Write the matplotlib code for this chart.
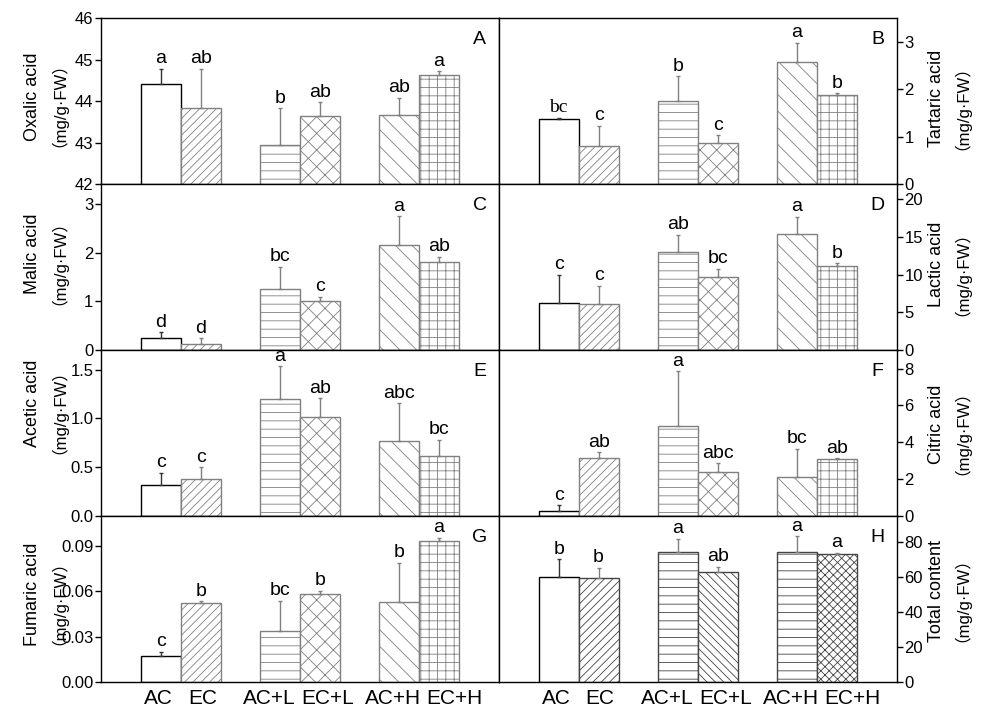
import numpy as np
import matplotlib.pyplot as plt

plt.rcParams['font.family'] = ['Liberation Sans', 'Noto Sans CJK SC']
plt.rcParams['hatch.linewidth'] = 0.6

treatments = ['AC', 'EC', 'AC+L', 'EC+L', 'AC+H', 'EC+H']
unit = '\uff08mg/g\u00b7FW\uff09'

# means, upper error and significance letters
oxalic = [44.42, 43.83, 42.95, 43.65, 43.67, 44.64]
oxalic_err = [0.37, 0.96, 0.88, 0.33, 0.41, 0.09]
oxalic_sig = ['a', 'ab', 'b', 'ab', 'ab', 'a']

tartaric = [1.38, 0.81, 1.76, 0.88, 2.57, 1.89]
tartaric_err = [0.02, 0.42, 0.52, 0.15, 0.42, 0.03]
tartaric_sig = ['bc', 'c', 'b', 'c', 'a', 'b']

malic = [0.24, 0.13, 1.25, 1.00, 2.15, 1.81]
malic_err = [0.13, 0.11, 0.46, 0.09, 0.59, 0.10]
malic_sig = ['d', 'd', 'bc', 'c', 'a', 'ab']

lactic = [6.3, 6.05, 12.95, 9.74, 15.35, 11.1]
lactic_err = [3.7, 2.5, 2.35, 1.05, 2.35, 0.4]
lactic_sig = ['c', 'c', 'ab', 'bc', 'a', 'b']

acetic = [0.314, 0.378, 1.195, 1.016, 0.773, 0.618]
acetic_err = [0.13, 0.12, 0.34, 0.19, 0.38, 0.16]
acetic_sig = ['c', 'c', 'a', 'ab', 'abc', 'bc']

citric = [0.28, 3.12, 4.9, 2.41, 2.14, 3.1]
citric_err = [0.29, 0.34, 2.95, 0.46, 1.52, 0.03]
citric_sig = ['c', 'ab', 'a', 'abc', 'bc', 'ab']

fumaric = [0.0168, 0.052, 0.0334, 0.058, 0.053, 0.0936]
fumaric_err = [0.003, 0.0013, 0.0203, 0.0024, 0.026, 0.002]
fumaric_sig = ['c', 'b', 'bc', 'b', 'b', 'a']

total = [59.8, 59.4, 74.2, 62.9, 74.5, 73.4]
total_err = [10.5, 6.0, 7.7, 2.9, 8.8, 0.5]
total_sig = ['b', 'b', 'a', 'ab', 'a', 'a']

hatches = ['', '////', '--', 'xx', '\\\\', '++']
hatches_total = ['', '////', '--', '\\\\\\\\', '--', 'xxxx']

# tag, data, error, letters, y label, y limits, y ticks, tick format, label height
panels = [
    ('A', oxalic, oxalic_err, oxalic_sig, 'Oxalic acid', (42, 46), [42, 43, 44, 45, 46], '%d', 0.53),
    ('B', tartaric, tartaric_err, tartaric_sig, 'Tartaric acid', (0, 3.5), [0, 1, 2, 3], '%d', 0.515),
    ('C', malic, malic_err, malic_sig, 'Malic acid', (0, 3.4), [0, 1, 2, 3], '%d', 0.58),
    ('D', lactic, lactic_err, lactic_sig, 'Lactic acid', (0, 22), [0, 5, 10, 15, 20], '%d', 0.515),
    ('E', acetic, acetic_err, acetic_sig, 'Acetic acid', (0, 1.7), [0, 0.5, 1.0, 1.5], '%.1f', 0.68),
    ('F', citric, citric_err, citric_sig, 'Citric acid', (0, 9), [0, 2, 4, 6, 8], '%d', 0.555),
    ('G', fumaric, fumaric_err, fumaric_sig, 'Fumaric acid', (0, 0.11), [0, 0.03, 0.06, 0.09], '%.2f', 0.53),
    ('H', total, total_err, total_sig, 'Total content', (0, 95), [0, 20, 40, 60, 80], '%d', 0.545),
]

width = 0.335
groups = np.repeat(np.arange(3), 2)
xpos = groups + np.tile([-width / 2, width / 2], 3)
label_shift = [-0.19, 0.18, -0.26, 0.23, -0.22, 0.3]

fig, axes = plt.subplots(4, 2, figsize=(9.81, 7.08), dpi=100)
plt.subplots_adjust(left=0.103, right=0.914, top=0.974, bottom=0.037, wspace=0, hspace=0)

for i, (tag, vals, errs, sigs, name, ylim, ticks, fmt, label_y) in enumerate(panels):
    ax = axes[i // 2, i % 2]
    right = (i % 2 == 1)
    pats = hatches_total if tag == 'H' else hatches
    hcol = '#444444' if tag == 'H' else '#808080'

    for j in range(6):
        ec = 'black' if j == 0 else hcol
        ax.bar(xpos[j], vals[j], width=width, color='white', edgecolor=ec,
               hatch=pats[j], linewidth=1.0)
    ecol = ['#333333'] + ['#808080'] * 5
    for j in range(6):
        ax.errorbar(xpos[j], vals[j], yerr=[[0], [errs[j]]], fmt='none',
                    ecolor=ecol[j], elinewidth=1.0, capsize=1.5, capthick=1.0)
        fam = ['Liberation Serif'] if (tag == 'B' and j == 0) else None
        ax.annotate(sigs[j], (xpos[j], vals[j] + errs[j]), xytext=(0, 4),
                    textcoords='offset points', ha='center', va='baseline',
                    fontsize=14, family=fam)

    ax.set_xlim(-0.67, 2.67)
    ax.set_ylim(*ylim)
    ax.set_yticks(ticks)
    ax.set_yticklabels([fmt % t for t in ticks])
    ax.tick_params(axis='y', direction='out', length=4, width=1, pad=1.5, labelsize=12)
    if right:
        ax.yaxis.tick_right()
    if i >= 6:
        ax.set_xticks([g + s for g, s in zip(groups, label_shift)])
        ax.set_xticklabels(treatments, fontsize=15)
        ax.tick_params(axis='x', length=0, pad=5)
    else:
        ax.set_xticks([])
    for sp in ax.spines.values():
        sp.set_linewidth(1.0)

    ax.text(0.952, 0.873, tag, transform=ax.transAxes, ha='center', va='center', fontsize=14)
    # two-line y label, anchored on each line's baseline
    x1, x2 = (1.1106, 1.1558) if right else (-0.162, -0.1143)
    ax.text(x1, label_y, name, transform=ax.transAxes, rotation=90,
            rotation_mode='anchor', ha='center', va='baseline', fontsize=13)
    ax.text(x2, label_y, unit, transform=ax.transAxes, rotation=90,
            rotation_mode='anchor', ha='center', va='baseline', fontsize=12)

fig.savefig('out.png', dpi=100)
